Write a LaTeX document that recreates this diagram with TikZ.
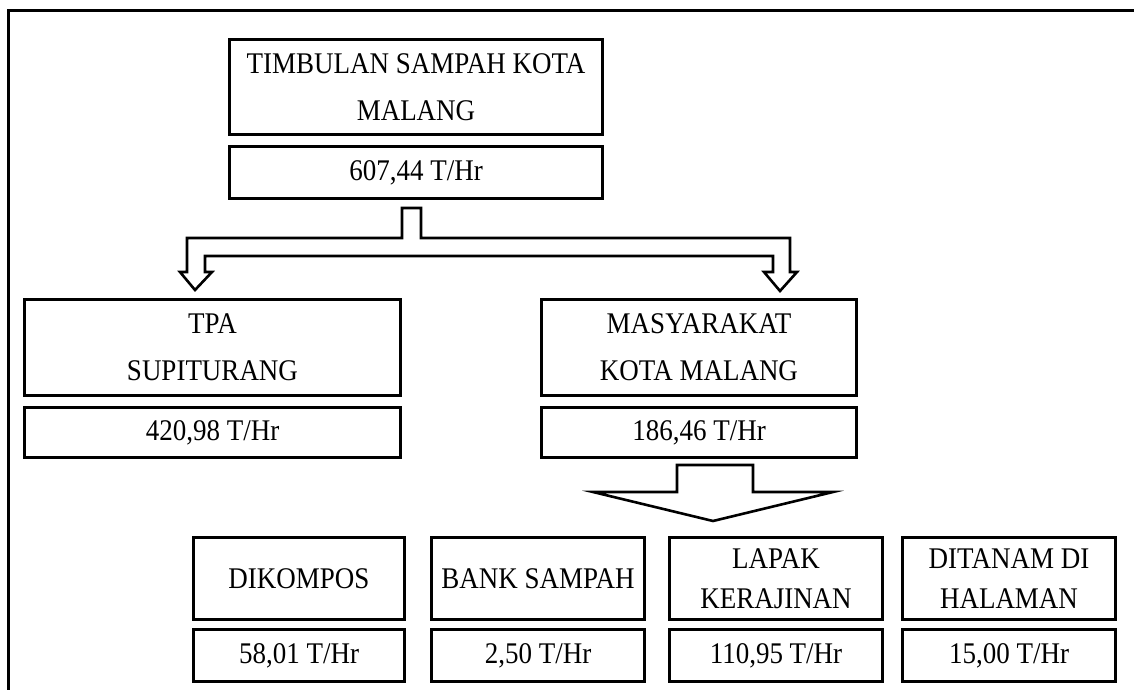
\documentclass[tikz,border=0pt]{standalone}
\usepackage{fontspec}
\setmainfont{Liberation Serif}[FakeStretch=0.9]
\begin{document}
\begin{tikzpicture}[x=1pt,y=-1pt,
  box/.style={draw, line width=3pt, inner sep=0pt, anchor=north west, align=center,
    font=\fontsize{30}{47}\selectfont},
  lowbox/.style={box, font=\fontsize{30}{40}\selectfont},
  blockarrow/.style={draw, line width=2.6pt, line join=miter, fill=white}]
\useasboundingbox (0,0) rectangle (1134,690);
% outer frame (cut off at right and bottom)
\draw[line width=3pt, line join=miter] (8,690) -- (8,11) -- (1134,11);
% top level
\node[box, minimum width=373pt, minimum height=95pt] (top) at (228,38) {TIMBULAN SAMPAH KOTA\\MALANG};
\node[box, minimum width=373pt, minimum height=52pt] (topv) at (228,145) {607,44 T/Hr};
% second level
\node[box, minimum width=376pt, minimum height=96pt] (tpa) at (23,298) {TPA\\SUPITURANG};
\node[box, minimum width=376pt, minimum height=50pt] (tpav) at (23,406) {420,98 T/Hr};
\node[box, minimum width=315pt, minimum height=96pt] (masy) at (540,298) {MASYARAKAT\\KOTA MALANG};
\node[box, minimum width=315pt, minimum height=50pt] (masyv) at (540,406) {186,46 T/Hr};
% third level
\node[lowbox, minimum width=211pt, minimum height=82pt] (dik) at (192,536) {DIKOMPOS};
\node[lowbox, minimum width=211pt, minimum height=52pt] (dikv) at (192,628) {58,01 T/Hr};
\node[lowbox, minimum width=213pt, minimum height=82pt] (bank) at (430,536) {BANK SAMPAH};
\node[lowbox, minimum width=213pt, minimum height=52pt] (bankv) at (430,628) {2,50 T/Hr};
\node[lowbox, minimum width=213pt, minimum height=82pt] (lapak) at (668,536) {LAPAK\\KERAJINAN};
\node[lowbox, minimum width=213pt, minimum height=52pt] (lapakv) at (668,628) {110,95 T/Hr};
\node[lowbox, minimum width=213pt, minimum height=82pt] (ditanam) at (901,536) {DITANAM DI\\HALAMAN};
\node[lowbox, minimum width=213pt, minimum height=52pt] (ditanamv) at (901,628) {15,00 T/Hr};
% split block arrow
\draw[blockarrow] (402,208) -- (421,208) -- (421,238) -- (790,238) -- (790,272) -- (797,272)
  -- (780,291) -- (764,272) -- (773,272) -- (773,256) -- (205,256) -- (205,272) -- (212,272)
  -- (195,290) -- (180,272) -- (187,272) -- (187,238) -- (402,238) -- cycle;
% lower block arrow
\draw[blockarrow] (677,465) -- (753,465) -- (753,492) -- (833,492) -- (713,521) -- (593,492)
  -- (677,492) -- cycle;
\end{tikzpicture}
\end{document}
